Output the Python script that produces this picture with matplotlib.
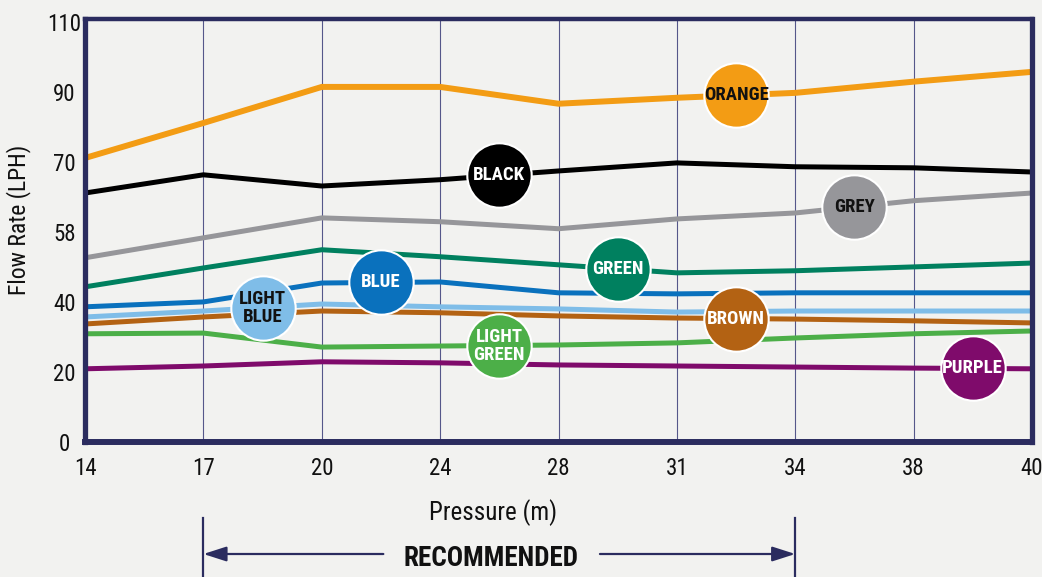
import numpy as np
import matplotlib
matplotlib.use("Agg")
from matplotlib import pyplot as plt
from matplotlib import font_manager
from matplotlib import transforms

# the original uses a condensed face, take one if the box has it
names = {f.name for f in font_manager.fontManager.ttflist}
narrow = [n for n in ["Roboto Condensed", "Liberation Sans Narrow",
                      "Open Sans Condensed", "DejaVu Sans Condensed"] if n in names]
stretch = "normal"
if not narrow:
    for f in font_manager.fontManager.ttflist:
        if f.name == "DejaVu Sans" and "condensed" in str(f.stretch):
            stretch = "condensed"
            break
plt.rcParams['font.family'] = narrow[:1] + ['DejaVu Sans']
plt.rcParams['font.stretch'] = stretch
have_narrow = bool(narrow) or stretch == "condensed"

# pressure categories (equally spaced on the chart)
pressure = ["14", "17", "20", "24", "28", "31", "34", "38", "40"]

# y axis is drawn on an even grid, labels are not linear
y_grid = [0, 20, 40, 60, 80, 100, 120]
y_labels = ["0", "20", "40", "58", "70", "90", "110"]

# values in grid units
orange = [81.1, 91.1, 101.4, 101.4, 96.6, 98.3, 99.7, 102.9, 105.7]
black = [71.1, 76.3, 73.1, 74.9, 77.4, 79.7, 78.6, 78.3, 77.1]
grey = [52.6, 58.3, 64.0, 62.9, 60.9, 63.7, 65.4, 68.9, 71.1]
green = [44.3, 49.7, 54.9, 52.9, 50.6, 48.3, 48.9, 50.0, 51.1]
blue = [38.6, 40.0, 45.4, 45.7, 42.6, 42.3, 42.6, 42.6, 42.6]
light_blue = [35.7, 37.4, 39.4, 38.6, 38.0, 37.1, 37.4, 37.4, 37.4]
brown = [33.7, 35.7, 37.4, 36.9, 36.0, 35.4, 35.1, 34.6, 34.0]
light_green = [30.9, 31.1, 27.1, 27.4, 27.7, 28.3, 29.7, 30.9, 31.7]
purple = [20.9, 21.7, 22.9, 22.6, 22.0, 21.7, 21.4, 21.1, 20.9]

# name, values, colour, label text colour, where the badge sits (category index), width
series = [
    ("ORANGE", orange, "#f39c14", "#111111", 5.5, 4.3),
    ("BLACK", black, "#000000", "white", 3.5, 3.6),
    ("GREY", grey, "#96969a", "#111111", 6.5, 3.6),
    ("GREEN", green, "#00805f", "white", 4.5, 3.6),
    ("BLUE", blue, "#0a71bd", "white", 2.5, 3.6),
    ("LIGHT\nBLUE", light_blue, "#7fbde8", "#111111", 1.5, 3.6),
    ("BROWN", brown, "#b36213", "white", 5.5, 3.6),
    ("LIGHT\nGREEN", light_green, "#4caf48", "white", 3.5, 3.6),
    ("PURPLE", purple, "#7f0b6b", "white", 7.5, 3.6),
]

navy = "#2b2c5f"
bg = "#f2f2f0"
k = 1.0 if have_narrow else 0.85
badge_fs = 13.5 * k
tick_fs = 16.5 * k

fig = plt.figure(figsize=(10.42, 5.77), dpi=100, facecolor=bg)
ax = fig.add_axes([0.0816, 0.234, 0.9088, 0.7331])
ax.set_facecolor(bg)

x = np.arange(len(pressure))

for i in x:
    ax.axvline(i, color="#55578a", lw=0.8, zorder=1)

# draw lines from bottom to top so the upper ones overlap like the original
for name, vals, col, tcol, pos, lw in reversed(series):
    ax.plot(x, vals, color=col, lw=lw, solid_joinstyle="miter", zorder=3)

for name, vals, col, tcol, pos, lw in series:
    yy = np.interp(pos, x, vals)
    ax.scatter([pos], [yy], s=2150, color=col, edgecolors="white",
               linewidths=1.5, zorder=5)
    ax.text(pos, yy, name, ha="center", va="center", color=tcol,
            fontsize=badge_fs, fontweight="bold", linespacing=1.0, zorder=6)

ax.set_xlim(0, len(pressure) - 1)
ax.set_ylim(0, 120.8)
ax.set_xticks(x)
ax.set_xticklabels(pressure)
ax.set_yticks(y_grid)
ax.set_yticklabels(y_labels)
ax.tick_params(length=0, labelsize=tick_fs, colors="#111111")
ax.tick_params(axis="x", pad=10.5)
ax.tick_params(axis="y", pad=14.8)
for lbl in ax.get_yticklabels():
    lbl.set_horizontalalignment("center")

for side, w in [("left", 3.8), ("right", 3.8), ("top", 3.2), ("bottom", 4.3)]:
    ax.spines[side].set_color(navy)
    ax.spines[side].set_linewidth(w)
    ax.spines[side].set_zorder(7)

fig.text(0.0175, 0.619, "Flow Rate (LPH)", rotation=90, ha="center",
         va="center", fontsize=17 * k, color="#111111")
fig.text(0.473, 0.112, "Pressure (m)", ha="center", va="center",
         fontsize=18 * k, color="#111111")

# recommended range marker under the chart, x in data, y in figure
tr = transforms.blended_transform_factory(ax.transData, fig.transFigure)
yf = 1 - 554 / 577
for xi in [1, 6]:
    ax.plot([xi, xi], [0, 1 - 518 / 577], transform=tr, color=navy,
            lw=1.6, clip_on=False)
head = dict(arrowstyle="-|>,head_length=1.4,head_width=0.45",
            color=navy, lw=1.6, shrinkA=0, shrinkB=0)
ax.annotate("", xy=(1.0, yf), xycoords=tr, xytext=(2.52, yf),
            textcoords=tr, arrowprops=head)
ax.annotate("", xy=(6.0, yf), xycoords=tr, xytext=(4.35, yf),
            textcoords=tr, arrowprops=head)
ax.text(3.43, 1 - 559 / 577, "RECOMMENDED", transform=tr, ha="center",
        va="center", fontsize=19.5 * k, fontweight="bold", color="#111111")

fig.savefig("out.png", dpi=100, facecolor=bg)
